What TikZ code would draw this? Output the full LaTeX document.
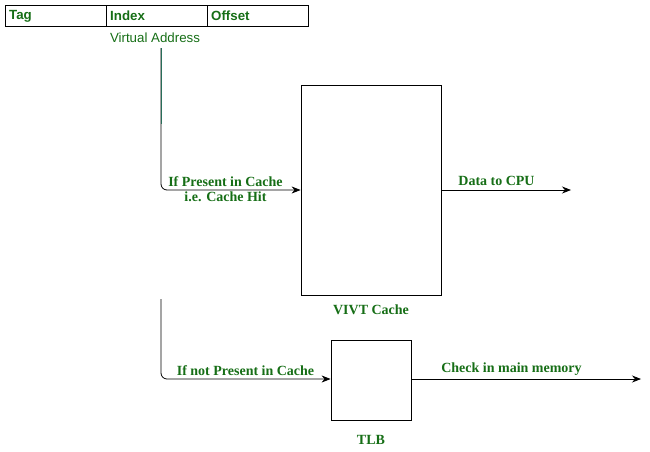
\documentclass[tikz,border=0pt]{standalone}
\usepackage{fontspec}
\setmainfont{Liberation Serif}
\setsansfont{Liberation Sans}
\usetikzlibrary{arrows.meta}
\definecolor{lbl}{RGB}{22,110,22}
\definecolor{lnk}{RGB}{40,110,90}
\begin{document}
\begin{tikzpicture}[x=1pt,y=-1pt,
  box/.style={draw=black,line width=0.8pt,inner sep=0pt},
  lab/.style={text=lbl,font=\fontsize{14}{16}\selectfont\bfseries,inner sep=0pt},
  flab/.style={text=lbl,font=\sffamily\fontsize{13.3}{15}\selectfont\bfseries,inner sep=0pt,anchor=west},
  arr/.style={draw=black,line width=0.8pt,-{Stealth[length=9pt,width=7pt]}},
  wire/.style={draw=black,line width=0.8pt,rounded corners=6pt}]
\useasboundingbox (0,0) rectangle (650,451);
% virtual address fields
\node[box,minimum width=101pt,minimum height=21pt] (tag) at (55.5,15.5) {};
\node[box,minimum width=101pt,minimum height=21pt] (idx) at (156.5,15.5) {};
\node[box,minimum width=101pt,minimum height=21pt] (off) at (257.5,15.5) {};
\node[flab] at (9,16) {Tag};
\node[flab] at (110,16) {Index};
\node[flab] at (211,16) {Offset};
\node[text=lbl,font=\sffamily\fontsize{13.3}{15}\selectfont,inner sep=0pt] (va) at (155,37.5) {Virtual Address};
% boxes
\node[box,minimum width=140pt,minimum height=210pt] (cache) at (371,190) {};
\node[lab] (cachel) at (371,310) {VIVT Cache};
\node[box,minimum width=80pt,minimum height=80pt] (tlb) at (371,380) {};
\node[lab] (tlbl) at (371,440) {TLB};
% coordinates
\coordinate (s1) at (161,48);
\coordinate (m1) at (161,124);
\coordinate (s2) at (161,299);
\coordinate (cpu) at (571,190);
\coordinate (mem) at (641,379);
% paths
\draw[wire,arr] (s1) |- (cache.west);
\draw[draw=lnk,line width=0.9pt] (s1) -- (m1);
\draw[wire,arr] (s2) |- (tlb.west |- 0,379);
\draw[arr] (cache.east) -- (cpu);
\draw[arr] (tlb.east |- 0,379) -- (mem);
% labels
\node[lab] at (225.5,181.5) {If Present in Cache};
\node[lab] at (225.5,196.5) {i.e. Cache Hit};
\node[lab] at (496.5,180.5) {Data to CPU};
\node[lab] at (245.5,370.5) {If not Present in Cache};
\node[lab] at (511.5,369.5) {Check in main memory};
\end{tikzpicture}
\end{document}
